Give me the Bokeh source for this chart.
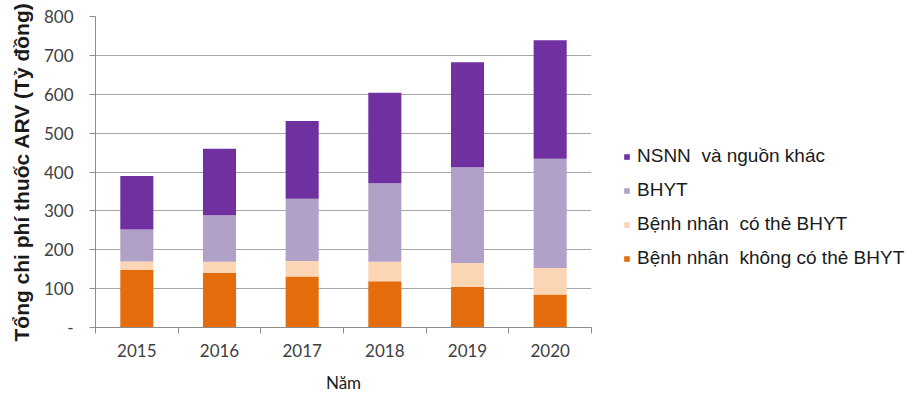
from bokeh.plotting import figure
from bokeh.layouts import row
from bokeh.models import ColumnDataSource, FixedTicker, Legend, LegendItem
from bokeh.embed import file_html
from bokeh.resources import INLINE

years = ["2015", "2016", "2017", "2018", "2019", "2020"]
khong_the = [148, 141, 131, 119, 105, 85]      # Bệnh nhân không có thẻ BHYT
co_the = [22, 28, 40, 50, 61, 68]             # Bệnh nhân có thẻ BHYT
bhyt = [82, 120, 160, 202, 246, 281]          # BHYT
nsnn = [138, 171, 200, 233, 270, 305]         # NSNN và nguồn khác

series = ["khong_the", "co_the", "bhyt", "nsnn"]
labels = ["Bệnh nhân  không có thẻ BHYT", "Bệnh nhân  có thẻ BHYT", "BHYT", "NSNN  và nguồn khác"]
colors = ["#E46C0A", "#FCD5B4", "#B1A0C7", "#7030A0"]

xpos = [i + 0.5 for i in range(len(years))]
source = ColumnDataSource(dict(x=xpos, khong_the=khong_the, co_the=co_the, bhyt=bhyt, nsnn=nsnn))

p = figure(width=600, height=395, x_range=(0, len(years)), y_range=(0, 800),
           output_backend="svg", toolbar_location=None,
           min_border_left=95, min_border_right=9, min_border_top=16, min_border_bottom=66)
p.outline_line_color = None
p.background_fill_color = "white"
p.border_fill_color = "white"

p.vbar_stack(series, x="x", width=0.4, color=colors, line_color=None, source=source)

# axes
axis_color = "#8C8C8C"
p.xaxis.ticker = FixedTicker(ticks=xpos, minor_ticks=list(range(len(years) + 1)))
p.xaxis.major_label_overrides = {x: y for x, y in zip(xpos, years)}
p.xaxis.major_tick_out = 0
p.xaxis.major_tick_in = 0
p.xaxis.minor_tick_out = 6
p.xaxis.minor_tick_in = 0
p.xaxis.minor_tick_line_color = axis_color
p.xaxis.axis_line_color = axis_color
p.xaxis.axis_label = "Năm"
p.xaxis.major_label_standoff = 10
p.xaxis.axis_label_standoff = 12

p.yaxis.ticker = FixedTicker(ticks=list(range(0, 801, 100)), minor_ticks=[])
p.yaxis.major_label_overrides = {0: "-"}
p.yaxis.major_tick_out = 6
p.yaxis.major_tick_in = 0
p.yaxis.major_tick_line_color = axis_color
p.yaxis.axis_line_color = axis_color
p.yaxis.axis_label = "Tổng chi phí thuốc ARV (Tỷ đồng)"
p.yaxis.major_label_standoff = 16
p.yaxis.axis_label_standoff = 8

for ax in (p.xaxis, p.yaxis):
    ax.major_label_text_font = "Lato"
    ax.major_label_text_font_size = "17px"
    ax.major_label_text_color = "#404040"
    ax.axis_label_text_color = "#1a1a1a"

p.xaxis.axis_label_text_font = "Lato"
p.xaxis.axis_label_text_font_size = "17px"
p.xaxis.axis_label_text_font_style = "normal"
p.yaxis.axis_label_text_font = "Liberation Sans"
p.yaxis.axis_label_text_font_size = "21px"
p.yaxis.axis_label_text_font_style = "bold"

p.xgrid.grid_line_color = None
p.ygrid.grid_line_color = "#A6A6A6"
p.ygrid.grid_line_width = 1

# legend panel (separate figure so the legend is not clipped by the chart frame)
lf = figure(width=313, height=395, x_range=(0, 1), y_range=(0, 1),
            output_backend="svg", toolbar_location=None,
            min_border_left=0, min_border_right=0, min_border_top=0, min_border_bottom=0)
lf.axis.visible = False
lf.grid.visible = False
lf.outline_line_color = None
lf.background_fill_color = "white"
lf.border_fill_color = "white"
# zero-height swatch renderers, used only to give the legend its colour keys
swatch = ColumnDataSource(dict(x=[0], top=[0]))
dummies = [lf.vbar(x="x", top="top", width=0, fill_color=c, line_color=None, source=swatch) for c in colors]

items = [LegendItem(label=labels[i], renderers=[dummies[i]]) for i in reversed(range(len(series)))]
legend = Legend(items=items, location=(23, 58), orientation="vertical")
legend.label_text_font = "Liberation Sans"
legend.label_text_font_size = "19px"
legend.label_text_color = "#1a1a1a"
legend.glyph_width = 7
legend.glyph_height = 7
legend.label_standoff = 7
legend.spacing = 12
legend.padding = 0
legend.margin = 0
legend.border_line_color = None
legend.background_fill_alpha = 0
lf.add_layout(legend)

layout = row(p, lf)
open("out.html", "w").write(file_html(layout, INLINE))
